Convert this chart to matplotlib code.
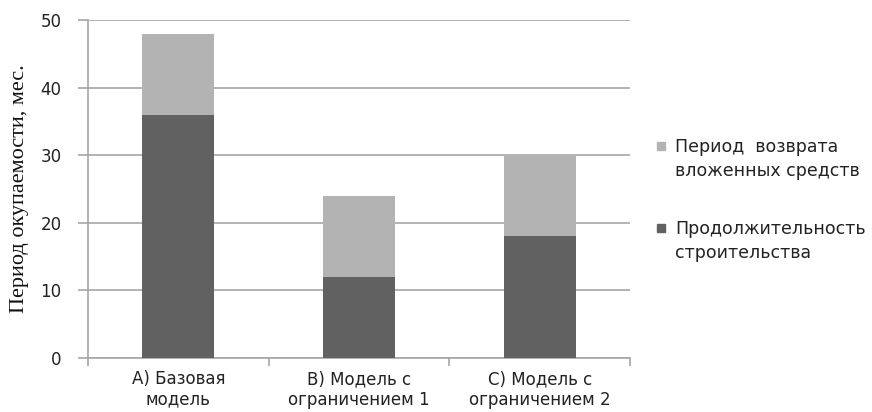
import matplotlib
matplotlib.use("Agg")
import matplotlib.pyplot as plt
import numpy as np
from matplotlib.patches import Rectangle

categories = ["A) Базовая\nмодель", "B) Модель с\nограничением 1", "C) Модель с\nограничением 2"]
construction = [36, 12, 18]
payback = [12, 12, 12]
series_names = ["Продолжительность\nстроительства", "Период  возврата\nвложенных средств"]
y_ticks = [0, 10, 20, 30, 40, 50]

dark = "#616161"
light = "#b3b3b3"
grid = "#a6a6a6"
text_color = "#222222"

W, H = 872, 412
fig = plt.figure(figsize=(W / 100, H / 100), dpi=100)
ax = fig.add_axes([88 / W, 1 - 358 / H, (630 - 88) / W, (358 - 20) / H])

x = np.arange(len(categories))
ax.bar(x, construction, width=0.4, color=dark, zorder=3)
ax.bar(x, payback, width=0.4, bottom=construction, color=light, zorder=3)

ax.set_xlim(-0.5, len(categories) - 0.5)
ax.set_ylim(0, 50)
ax.set_yticks(y_ticks)
ax.yaxis.grid(True, color=grid, linewidth=1.2, zorder=0)
for s in ["top", "right"]:
    ax.spines[s].set_visible(False)
for s in ["left", "bottom"]:
    ax.spines[s].set_color(grid)
    ax.spines[s].set_linewidth(1.2)

ax.set_xticks(x)
ax.set_xticklabels(categories, fontsize=12, color=text_color, linespacing=1.15)
ax.tick_params(axis="x", length=0, pad=9)
ax.set_xticks(np.arange(len(categories) + 1) - 0.5, minor=True)
ax.tick_params(axis="x", which="minor", length=6, color=grid, width=1.2)
ax.tick_params(axis="y", length=7, color=grid, width=1.2, labelsize=12,
               labelcolor=text_color, pad=12)

ax.set_ylabel("Период окупаемости, мес.", family="Liberation Serif",
              fontsize=16, color="#111111", labelpad=8)

# legend: swatch aligned with the first line of each two-line label
legend_items = [(light, series_names[1], 146), (dark, series_names[0], 228)]
for color, label, ytop in legend_items:
    fig.patches.append(Rectangle((657 / W, 1 - (ytop + 4) / H), 8 / W, 8 / H,
                                 transform=fig.transFigure, color=color))
    fig.text(675 / W, 1 - (ytop - 8) / H, label, fontsize=12.5, color=text_color,
             va="top", ha="left", linespacing=1.4)

fig.savefig("out.png", dpi=100)
